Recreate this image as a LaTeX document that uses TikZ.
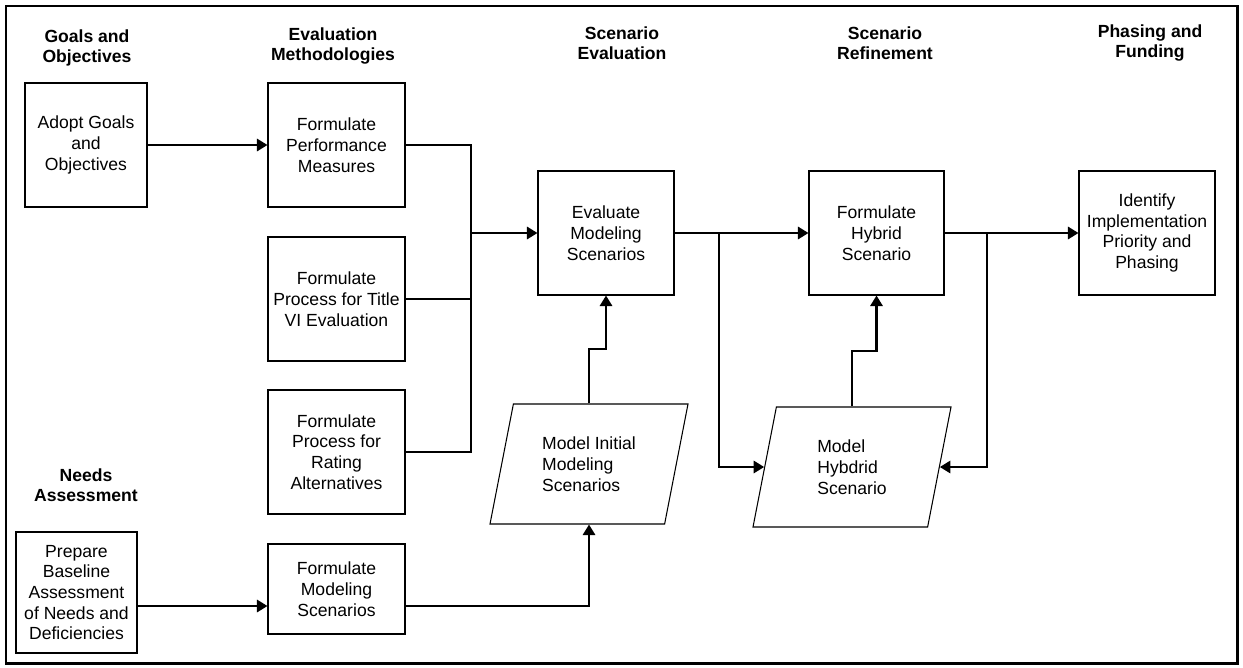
\documentclass[tikz,border=0pt]{standalone}
\usepackage{fontspec}
\setmainfont{Liberation Sans}
\usetikzlibrary{positioning,arrows.meta,shapes.geometric}
\newdimen\pxu
\pxu=0.02cm
\tikzset{
    >={Triangle[length=6pt,width=7pt]},
    stepbox/.style={
        rectangle,
        draw=black, line width=0.6pt,
        minimum width=137\pxu,
        minimum height=124\pxu,
        align=center,
        inner sep=1pt
    },
    databox/.style={
        trapezium,
        trapezium left angle=68, trapezium right angle=112,
        trapezium stretches body,
        draw=black, line width=0.6pt,
        minimum height=120\pxu,
        minimum width=198\pxu,
        align=left,
        inner sep=1pt
    },
    heading/.style={align=center, font=\bfseries\fontsize{10pt}{11.6pt}\selectfont},
    link/.style={draw, line width=1.3pt, ->},
    bar/.style={draw, line width=1.3pt},
    font={\fontsize{10pt}{11.8pt}\selectfont},
}

\begin{document}
\begin{tikzpicture}[x=0.02cm, y=-0.02cm]
\useasboundingbox (0,0) rectangle (1243,667);
\draw[line width=1.7pt] (6,6) rectangle (1237,663);

% column headings
\node[heading](hGoals) at (87,48){Goals and\\Objectives};
\node[heading](hEval) at (333,46){Evaluation\\Methodologies};
\node[heading](hScen) at (622,43){Scenario\\Evaluation};
\node[heading](hRefine) at (885,43){Scenario\\Refinement};
\node[heading](hPhase) at (1150,43){Phasing and\\Funding};
\node[heading](hNeeds) at (86,485){Needs\\Assessment};

% steps
\node[stepbox, minimum width=122\pxu](goals) at (86,145){Adopt Goals\\and\\Objectives};
\node[stepbox](perf) at (336.5,145){Formulate\\Performance\\Measures};
\node[stepbox](title) at (336.5,299){Formulate\\Process for Title\\VI Evaluation};
\node[stepbox](rating) at (336.5,452){Formulate\\Process for\\Rating\\Alternatives};
\node[stepbox, minimum height=90\pxu](formmod) at (336.5,589){Formulate\\Modeling\\Scenarios};
\node[stepbox, minimum width=121\pxu, minimum height=121\pxu](prep) at (76.5,592.5){Prepare\\Baseline\\Assessment\\of Needs and\\Deficiencies};
\node[stepbox, minimum width=136\pxu](evalmod) at (606,233){Evaluate\\Modeling\\Scenarios};
\node[stepbox, minimum width=135\pxu](hybrid) at (876.5,233){Formulate\\Hybrid\\Scenario};
\node[stepbox, minimum width=136\pxu](ident) at (1147,233){Identify\\Implementation\\Priority and\\Phasing};
\node[databox](modinit) at (589,464){Model Initial\\Modeling\\Scenarios};
\node[databox](modhyb) at (852,467){Model\\Hybdrid\\Scenario};

\coordinate(bus) at (471,233);
\coordinate(splitA) at (719,233);
\coordinate(splitB) at (987,233);
\coordinate(jogA) at (600,349);
\coordinate(jogB) at (865,351);
\coordinate(lowrow) at (0,606);

\draw[link] (goals) -- (perf);
\draw[bar] (perf.east) -| (bus);
\draw[bar] (title.east) -- (title.east -| bus);
\draw[bar] (rating.east) -| (bus);
\draw[link] (bus) -- (evalmod.west);
\draw[link] (evalmod) -- (hybrid);
\draw[link] (hybrid) -- (ident);
\draw[link] (splitA) |- (modhyb.left side);
\draw[link] (splitB) |- (modhyb.right side);
\draw[link] (modinit.north) |- (jogA) -| (evalmod.south);
\draw[link] (modhyb.north) |- (jogB) -| (hybrid.south);
\draw[link] (prep.east |- lowrow) -- (formmod.west |- lowrow);
\draw[link] (formmod.east |- lowrow) -| (modinit.south);
\end{tikzpicture}
\end{document}
